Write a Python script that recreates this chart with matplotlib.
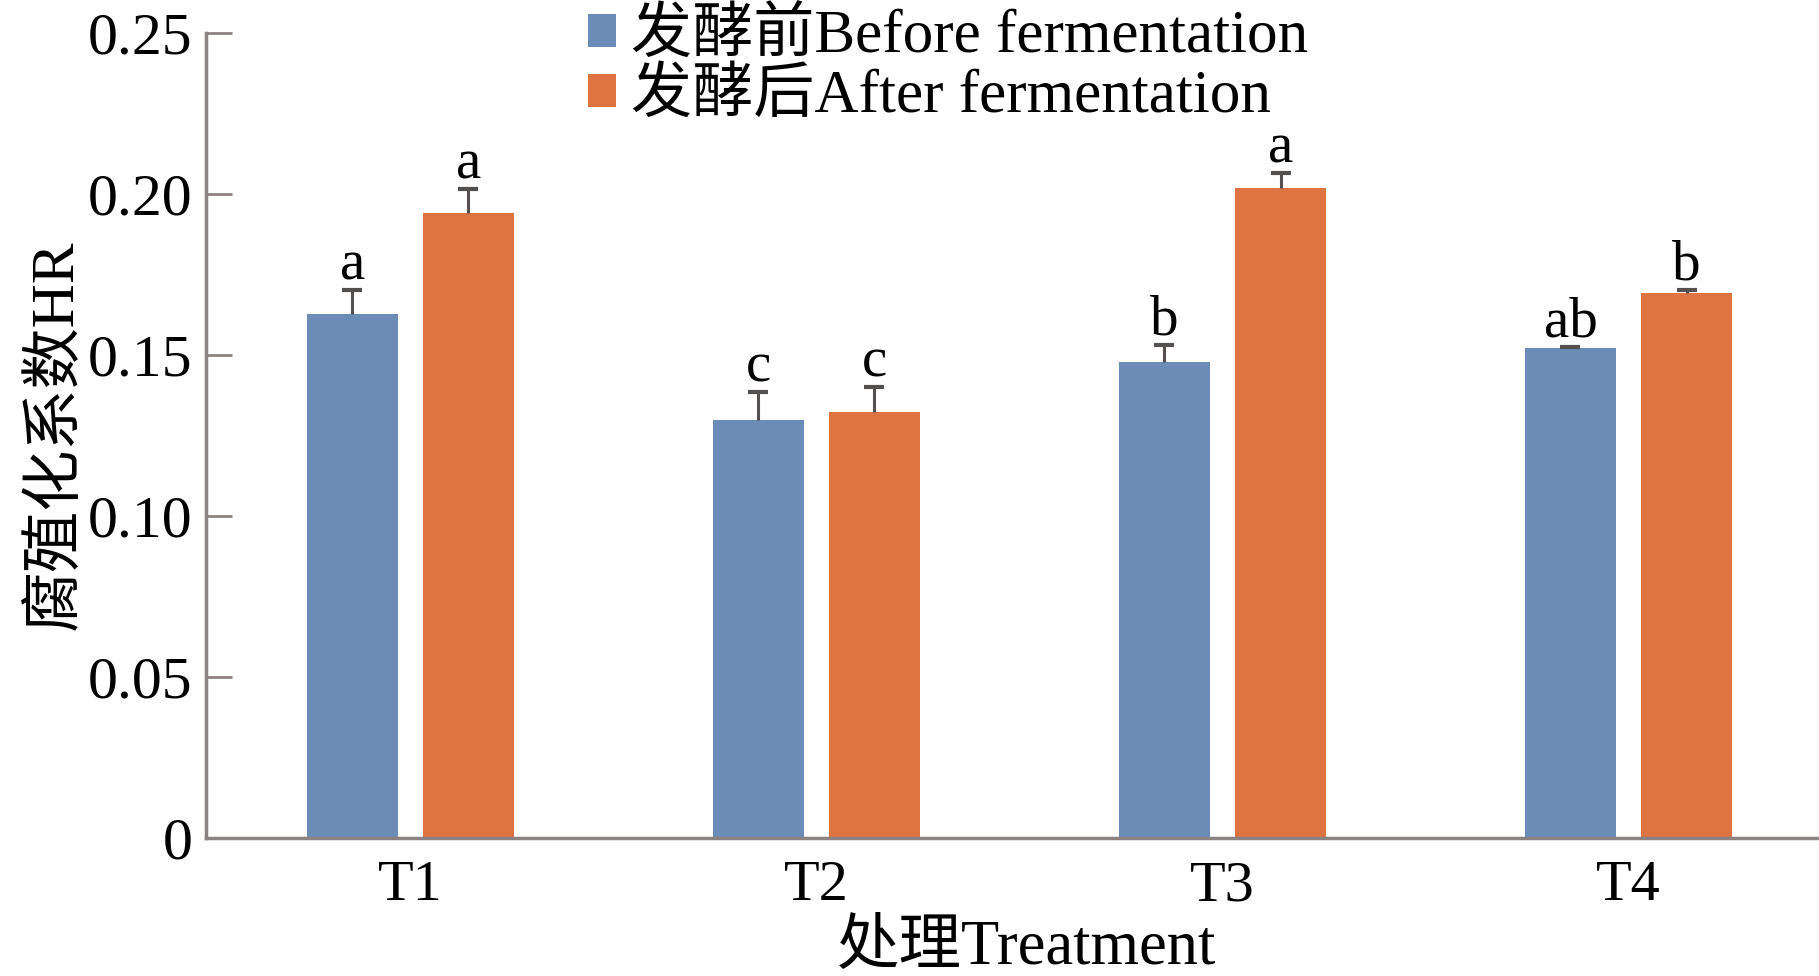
import numpy as np
import matplotlib.pyplot as plt
from matplotlib.ticker import FuncFormatter

groups = ['T1', 'T2', 'T3', 'T4']
before = [0.1625, 0.1297, 0.1477, 0.1520]
before_err = [0.0075, 0.0086, 0.0053, 0.0005]
after = [0.1940, 0.1322, 0.2017, 0.1690]
after_err = [0.0074, 0.0078, 0.0047, 0.0010]
before_sig = ['a', 'c', 'b', 'ab']
after_sig = ['a', 'c', 'a', 'b']

fam = ['Liberation Serif', 'Noto Sans CJK SC']
plt.rcParams['font.family'] = fam
plt.rcParams['font.size'] = 40

c_before = '#6a8cb7'
c_after = '#dd7442'
axis_c = '#8c8282'

fig = plt.figure(figsize=(18.19, 9.76), dpi=100)
ax = fig.add_axes([0.1133, 0.1414, 0.8867, 0.8253])

x = np.arange(len(groups))
w = 0.223
off = 0.143
ax.bar(x - off, before, w, color=c_before, label='发酵前Before fermentation')
ax.bar(x + off, after, w, color=c_after, label='发酵后After fermentation')

# upward-only error bars, cap on top only
for xs, vals, errs in [(x - off, before, before_err), (x + off, after, after_err)]:
    eb = ax.errorbar(xs, vals, yerr=[np.zeros(4), errs], fmt='none',
                     ecolor='#555050', elinewidth=2.2, capsize=7, capthick=3)
    eb.lines[1][0].set_visible(False)

for xi, v, e, s in zip(x - off, before, before_err, before_sig):
    ax.annotate(s, (xi, v + e), xytext=(0, -1), textcoords='offset points',
                ha='center', va='bottom', fontsize=41)
for xi, v, e, s in zip(x + off, after, after_err, after_sig):
    ax.annotate(s, (xi, v + e), xytext=(0, -1), textcoords='offset points',
                ha='center', va='bottom', fontsize=41)

ax.set_xlim(-0.503, 3.469)
ax.set_ylim(0, 0.25)
ax.set_yticks([0, 0.05, 0.10, 0.15, 0.20, 0.25])
ax.yaxis.set_major_formatter(FuncFormatter(lambda v, p: '0' if v == 0 else f'{v:.2f}'))
ax.set_xticks(x)
ax.set_xticklabels(groups)
ax.tick_params(axis='y', direction='in', length=19, width=2, color=axis_c, labelsize=43, pad=10)
ax.tick_params(axis='x', length=0, labelsize=42, pad=16)

for side in ['top', 'right']:
    ax.spines[side].set_visible(False)
for side in ['left', 'bottom']:
    ax.spines[side].set_color(axis_c)
    ax.spines[side].set_linewidth(2.5)

ax.set_ylabel('腐殖化系数HR', fontsize=44, labelpad=2)
ax.set_xlabel('处理Treatment', fontsize=45)
ax.xaxis.set_label_coords(0.509, -0.102)

ax.legend(loc='upper left', bbox_to_anchor=(0.218, 1.068), frameon=False,
          handlelength=0.45, handleheight=0.45, handletextpad=0.25,
          labelspacing=0.05, borderpad=0, fontsize=44)

fig.savefig('out.png', dpi=100)
